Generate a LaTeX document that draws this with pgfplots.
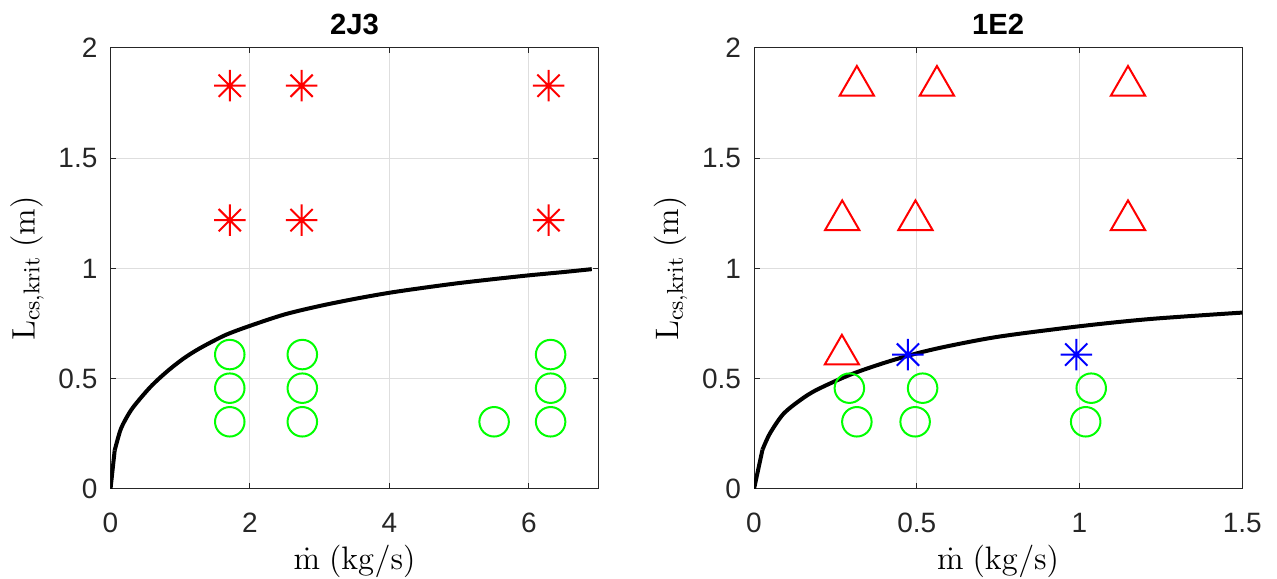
\documentclass[border=0pt]{standalone}
\usepackage{fix-cm}
\usepackage[no-math]{fontspec}
\setmainfont{Liberation Sans}
\usepackage{pgfplots}
\pgfplotsset{compat=1.18}

% MATLAB-style asterisk: four strokes, eight arms
\pgfdeclareplotmark{mstar}{%
  \pgfpathmoveto{\pgfpointpolar{0}{\pgfplotmarksize}}\pgfpathlineto{\pgfpointpolar{180}{\pgfplotmarksize}}%
  \pgfpathmoveto{\pgfpointpolar{90}{\pgfplotmarksize}}\pgfpathlineto{\pgfpointpolar{270}{\pgfplotmarksize}}%
  \pgfpathmoveto{\pgfpointpolar{45}{\pgfplotmarksize}}\pgfpathlineto{\pgfpointpolar{225}{\pgfplotmarksize}}%
  \pgfpathmoveto{\pgfpointpolar{135}{\pgfplotmarksize}}\pgfpathlineto{\pgfpointpolar{315}{\pgfplotmarksize}}%
  \pgfusepathqstroke}

\pgfplotsset{
  mlab/.style={
    scale only axis, width=195.3pt, height=176.4pt,
    ymin=0, ymax=2, ytick={0,0.5,1,1.5,2},
    /pgf/number format/assume math mode=true,
    tick align=inside, major tick length=2.2pt,
    axis line style={black!85, line width=0.4pt},
    tick style={black!85, line width=0.4pt},
    xmajorgrids=true, ymajorgrids=true,
    grid style={black!13, line width=0.4pt},
    tick label style={font=\fontsize{11.2}{13}\selectfont, text=black!85},
    x tick label style={yshift=-6pt},
    y tick label style={xshift=-1.7pt},
    every axis title/.style={at={(0.5,1)}, anchor=south, yshift=1.7pt,
      font=\fontsize{11.7}{14}\selectfont\bfseries},
    label style={font=\fontsize{13}{15}\selectfont},
    xlabel style={at={(axis description cs:0.5,-0.164)}, anchor=center},
    ylabel style={at={(axis description cs:-0.171,0.5)}, anchor=center},
    xlabel={$\dot{\mathrm{m}}\ (\mathrm{kg/s})$},
    ylabel={$\mathrm{L}_{\mathrm{cs,krit}}\ (\mathrm{m})$},
  },
  curve/.style={black, line width=1.6pt, mark=none},
  okmark/.style={only marks, mark=o, mark size=5.9pt, green, line width=0.8pt},
  badstar/.style={only marks, mark=mstar, mark size=6.3pt, red, line width=0.8pt},
  badtri/.style={only marks, mark=triangle, mark size=7.9pt, red, line width=0.8pt},
  limstar/.style={only marks, mark=mstar, mark size=6.3pt, blue, line width=0.8pt},
}

\begin{document}
\begin{tikzpicture}
\begin{axis}[mlab, title={2J3}, at={(0pt,0pt)},
  xmin=0, xmax=7, xtick={0,2,4,6}]
\addplot[okmark] coordinates {
(1.71,0.6096) (1.71,0.4572) (1.71,0.3048)
(2.75,0.6096) (2.75,0.4572) (2.75,0.3048)
(6.31,0.6096) (6.31,0.4572) (6.31,0.3048)
(5.50,0.3048)
};
\addplot[curve] coordinates {(0,0) (0.06,0.175)};
\addplot[curve, smooth, tension=0.5] coordinates {
(0.06,0.175) (0.14,0.265) (0.22,0.318) (0.33,0.373) (0.57,0.462) (0.80,0.530)
(1.04,0.590) (1.28,0.638) (1.64,0.697) (2.0,0.740) (2.5,0.792) (3.0,0.830)
(3.5,0.862) (4.0,0.890) (4.5,0.913) (5.0,0.934) (5.5,0.952) (6.0,0.969)
(6.5,0.984) (6.9,0.997)
};
\addplot[badstar] coordinates {
(1.71,1.8288) (2.74,1.8288) (6.28,1.8288)
(1.71,1.2192) (2.74,1.2192) (6.28,1.2192)
};
\end{axis}

\begin{axis}[mlab, title={1E2}, at={(257.4pt,0pt)},
  xmin=0, xmax=1.5, xtick={0,0.5,1,1.5}]
\addplot[okmark] coordinates {
(0.293,0.4572) (0.316,0.3048)
(0.518,0.4572) (0.495,0.3048)
(1.036,0.4572) (1.019,0.3048)
};
\addplot[badtri] coordinates {
(0.316,1.8288) (0.562,1.8288) (1.149,1.8288)
(0.271,1.2192) (0.496,1.2192) (1.149,1.2192)
(0.270,0.6096)
};
\addplot[curve] coordinates {(0,0) (0.026,0.178)};
\addplot[curve, smooth, tension=0.5] coordinates {
(0.026,0.178) (0.049,0.252) (0.090,0.340) (0.142,0.403) (0.193,0.450)
(0.295,0.518) (0.398,0.571) (0.50,0.615) (0.603,0.650) (0.757,0.692)
(1.0,0.738) (1.218,0.771) (1.5,0.800)
};
\addplot[limstar] coordinates {(0.473,0.6096) (0.990,0.6096)};
\end{axis}

\pgfresetboundingbox
\path[use as bounding box] (-44.2pt,-36pt) rectangle (466.6pt,195.6pt);
\end{tikzpicture}
\end{document}
